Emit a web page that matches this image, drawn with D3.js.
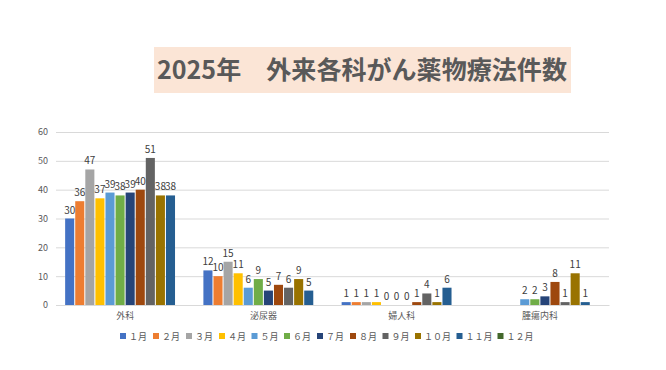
<!DOCTYPE html>
<html>
<head>
<meta charset="utf-8">
<script src="https://cdn.jsdelivr.net/npm/d3@7"></script>
<style>
  body { margin: 0; background: #fff; }
  text { font-family: "Noto Sans CJK JP", "Noto Sans", sans-serif; }
</style>
</head>
<body>
<div id="graf"></div>
<script>
// datos
const categorias = ['外科', '泌尿器', '婦人科', '腫瘍内科']
const meses = ['１月', '２月', '３月', '４月', '５月', '６月', '７月', '８月', '９月', '１０月', '１１月', '１２月']
const geka = [30, 36, 47, 37, 39, 38, 39, 40, 51, 38, 38, null]
const hinyoki = [12, 10, 15, 11, 6, 9, 5, 7, 6, 9, 5, null]
const fujinka = [1, 1, 1, 1, 0, 0, 0, 1, 4, 1, 6, null]
const shuyo = [null, null, null, null, 2, 2, 3, 8, 1, 11, 1, null]
const yTicks = [0, 10, 20, 30, 40, 50, 60]
const titulo = '2025年　外来各科がん薬物療法件数'

const colores = ['#4472C4', '#ED7D31', '#A5A5A5', '#FFC000', '#5B9BD5', '#70AD47',
  '#264478', '#9E480E', '#636363', '#997300', '#255E91', '#43682B']

const valores = [geka, hinyoki, fujinka, shuyo]

const anchoTotal = 666
const altoTotal = 370

const svg = d3.select('#graf')
  .append('svg')
  .attr('width', anchoTotal)
  .attr('height', altoTotal)

const margin = { top: 132, bottom: 65, left: 56, right: 57 }
const ancho = anchoTotal - margin.left - margin.right
const alto = altoTotal - margin.top - margin.bottom

// titulo
svg.append('rect')
  .attr('x', 154).attr('y', 47)
  .attr('width', 417).attr('height', 46)
  .attr('fill', '#FBE5D6')

svg.append('text')
  .attr('x', 157).attr('y', 79)
  .attr('font-size', 25)
  .attr('font-weight', 'bold')
  .attr('fill', '#595959')
  .attr('textLength', 410)
  .attr('lengthAdjust', 'spacingAndGlyphs')
  .text(titulo)

const g = svg.append('g')
  .attr('transform', `translate(${margin.left}, ${margin.top})`)

const y = d3.scaleLinear()
  .domain([0, 60])
  .range([alto, 0])

const x0 = d3.scaleBand()
  .domain(categorias)
  .range([0, ancho])
  .paddingInner(0.125)
  .paddingOuter(0.0625)

const x1 = d3.scaleBand()
  .domain(meses)
  .range([0, x0.bandwidth()])
  .paddingInner(0.1)
  .paddingOuter(0.05)

const color = d3.scaleOrdinal()
  .domain(meses)
  .range(colores)

// lineas de grilla
const yAxisGroup = g.append('g')
  .call(d3.axisLeft(y).tickValues(yTicks).tickSize(-ancho).tickPadding(8))
yAxisGroup.select('.domain').remove()
yAxisGroup.selectAll('line').attr('stroke', '#D9D9D9')
yAxisGroup.selectAll('text')
  .attr('font-size', 9)
  .attr('fill', '#595959')
  .attr('font-family', '"Liberation Sans", sans-serif')

const xAxisGroup = g.append('g')
  .attr('transform', `translate(0, ${alto})`)
  .call(d3.axisBottom(d3.scaleBand().domain(categorias).range([0, ancho])).tickSize(0).tickPadding(8))
xAxisGroup.select('.domain').attr('stroke', '#D9D9D9')
xAxisGroup.selectAll('text')
  .attr('font-size', 9)
  .attr('fill', '#595959')

// filas aplanadas
const filas = []
categorias.forEach((c, i) => {
  meses.forEach((m, j) => {
    if (valores[i][j] !== null) filas.push({ cat: c, mes: m, valor: valores[i][j] })
  })
})

g.selectAll('rect.barra')
  .data(filas)
  .enter()
  .append('rect')
  .attr('class', 'barra')
  .attr('x', d => x0(d.cat) + x1(d.mes))
  .attr('width', x1.bandwidth())
  .attr('y', d => y(d.valor))
  .attr('height', d => alto - y(d.valor))
  .attr('fill', d => color(d.mes))

g.selectAll('text.etiqueta')
  .data(filas)
  .enter()
  .append('text')
  .attr('class', 'etiqueta')
  .attr('x', d => x0(d.cat) + x1(d.mes) + x1.bandwidth() / 2)
  .attr('y', d => y(d.valor) - 5)
  .attr('text-anchor', 'middle')
  .attr('font-size', 10)
  .attr('fill', '#404040')
  .attr('font-family', '"Liberation Sans Narrow", "Liberation Sans", sans-serif')
  .text(d => d.valor)

// leyenda
const leyendaX = [120, 153, 186, 219, 251.5, 284, 317, 350, 382.5, 415, 456.5, 497.5]
const leyenda = svg.append('g')
  .selectAll('g')
  .data(meses)
  .enter()
  .append('g')
  .attr('transform', (d, i) => `translate(${leyendaX[i]}, 336)`)

leyenda.append('rect')
  .attr('x', 0).attr('y', -3)
  .attr('width', 6).attr('height', 6)
  .attr('fill', d => color(d))

leyenda.append('text')
  .attr('x', 9).attr('y', 3.5)
  .attr('font-size', 9)
  .attr('fill', '#595959')
  .text(d => d)
</script>
</body>
</html>
